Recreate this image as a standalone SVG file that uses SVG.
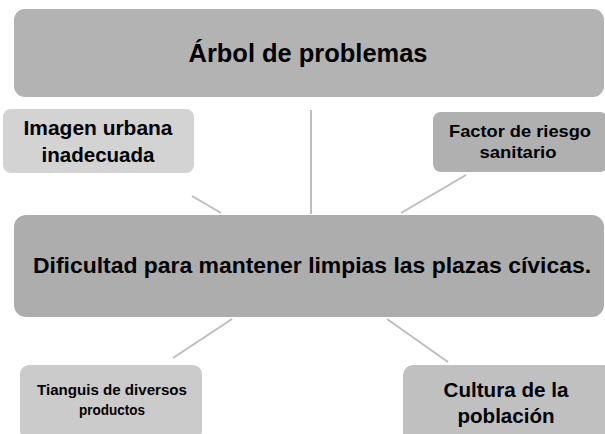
<svg xmlns="http://www.w3.org/2000/svg" width="605" height="434" viewBox="0 0 605 434">
<style>
  text { font-family: "Liberation Sans", Arial, sans-serif; font-weight: bold; fill: #000; text-anchor: middle; }
  .conn { stroke: #bdbdbd; stroke-width: 2; fill: none; }
</style>
<rect width="605" height="434" fill="#ffffff"/>
<g id="connectors">
  <line class="conn" x1="192" y1="196" x2="221" y2="213"/>
  <line class="conn" x1="311" y1="110" x2="311" y2="214"/>
  <line class="conn" x1="466" y1="175" x2="401" y2="213"/>
  <line class="conn" x1="232" y1="319" x2="173" y2="358"/>
  <line class="conn" x1="387" y1="319" x2="448" y2="362"/>
</g>
<g id="title">
  <rect x="14" y="9" width="590" height="88" rx="11" fill="#b3b3b3"/>
  <text x="308" y="62" font-size="25" textLength="239" lengthAdjust="spacingAndGlyphs">Árbol de problemas</text>
</g>
<g id="imagen">
  <rect x="3" y="109" width="191" height="64" rx="8" fill="#d3d3d3"/>
  <text x="98" y="135" font-size="20" textLength="149" lengthAdjust="spacingAndGlyphs">Imagen urbana</text>
  <text x="98" y="162" font-size="20" textLength="113" lengthAdjust="spacingAndGlyphs">inadecuada</text>
</g>
<g id="factor">
  <rect x="433" y="112" width="175" height="60" rx="8" fill="#b0b0b0"/>
  <text x="520" y="137" font-size="17" textLength="142" lengthAdjust="spacingAndGlyphs">Factor de riesgo</text>
  <text x="518" y="158" font-size="17" textLength="77" lengthAdjust="spacingAndGlyphs">sanitario</text>
</g>
<g id="central">
  <rect x="14" y="215" width="590" height="102" rx="12" fill="#adadad"/>
  <text x="312" y="273" font-size="22" textLength="558" lengthAdjust="spacingAndGlyphs">Dificultad para mantener limpias las plazas cívicas.</text>
</g>
<g id="tianguis">
  <rect x="20" y="365" width="182" height="75" rx="9" fill="#cbcbcb"/>
  <text x="112" y="395" font-size="15" textLength="150" lengthAdjust="spacingAndGlyphs">Tianguis de diversos</text>
  <text x="112" y="415" font-size="15" textLength="66" lengthAdjust="spacingAndGlyphs">productos</text>
</g>
<g id="cultura">
  <rect x="403" y="365" width="210" height="80" rx="10" fill="#c0c0c0"/>
  <text x="506" y="397" font-size="21" textLength="125" lengthAdjust="spacingAndGlyphs">Cultura de la</text>
  <text x="506" y="423" font-size="21" textLength="97" lengthAdjust="spacingAndGlyphs">población</text>
</g>
</svg>
